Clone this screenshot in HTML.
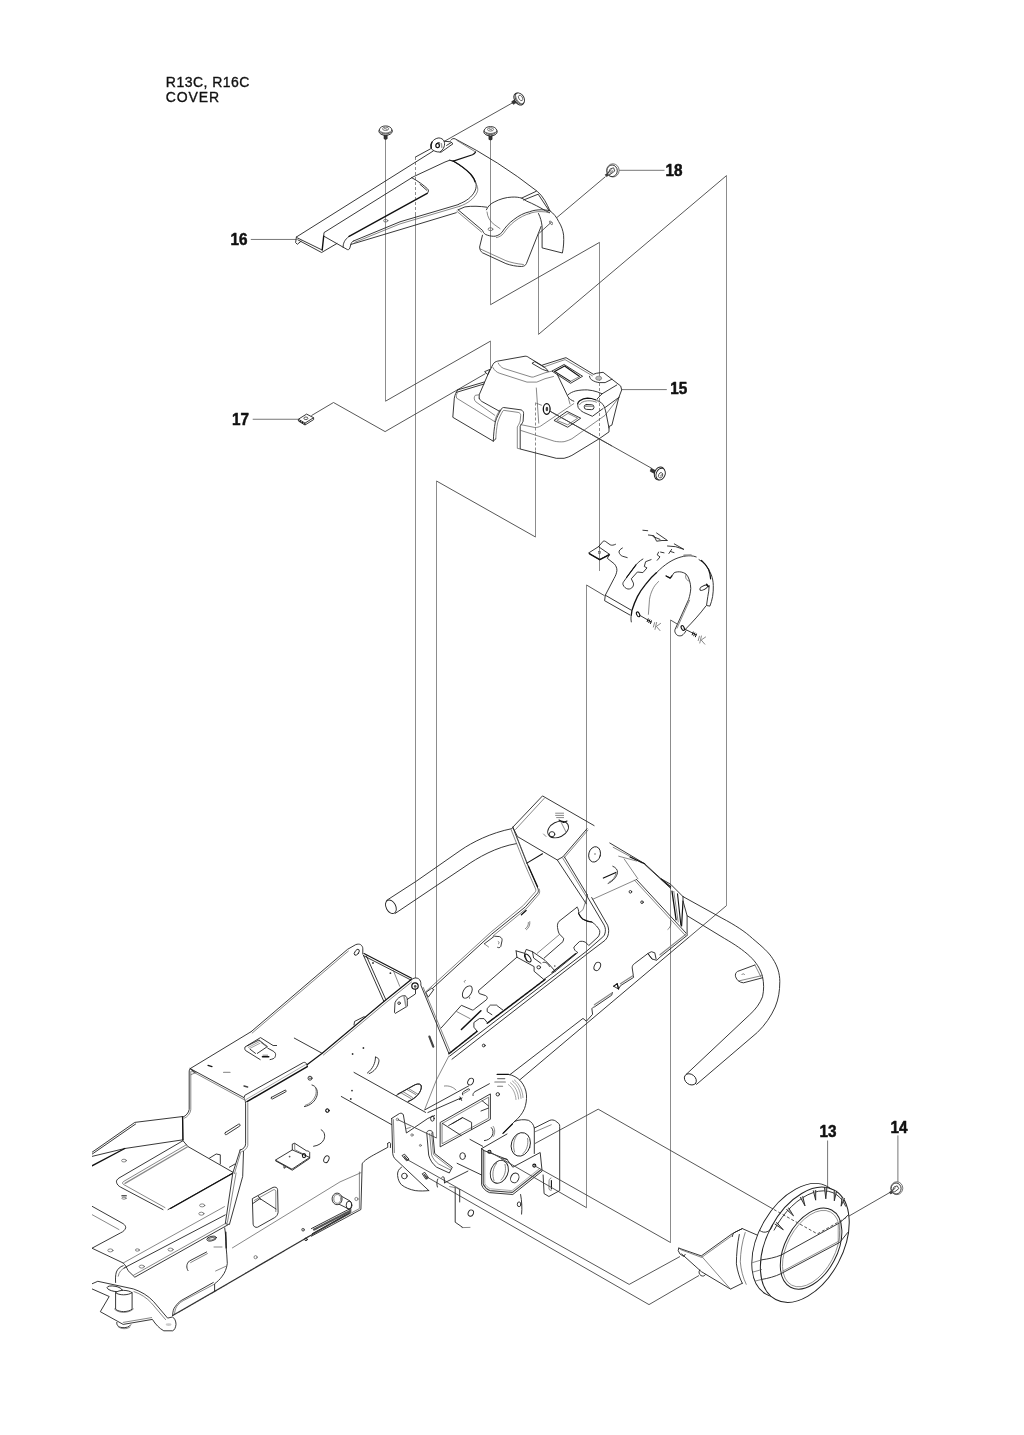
<!DOCTYPE html>
<html><head><meta charset="utf-8"><title>R13C, R16C COVER</title>
<style>
html,body{margin:0;padding:0;background:#fff;}
body{width:1024px;height:1435px;overflow:hidden;font-family:"Liberation Sans",sans-serif;}
svg{display:block;position:absolute;left:0;top:0;filter:grayscale(1);}
.t{font-family:"Liberation Sans",sans-serif;font-size:14px;fill:#111;stroke:#111;stroke-width:0.35px;}
.n{font-family:"Liberation Sans",sans-serif;font-size:16px;font-weight:bold;fill:#111;stroke:#111;stroke-width:0.5px;stroke-linejoin:round;}
.p{fill:none;stroke:#444;stroke-width:0.9;}
.pv{fill:none;stroke:#8c8c8c;stroke-width:1;}
.g{fill:none;stroke:#777;stroke-width:1;}
.o{fill:none;stroke:#222;stroke-width:0.9;stroke-linejoin:round;stroke-linecap:round;}
.l{fill:none;stroke:#555;stroke-width:0.7;stroke-linejoin:round;stroke-linecap:round;}
.k{fill:none;stroke:#111;stroke-width:1.4;stroke-linejoin:round;stroke-linecap:round;}
.w{fill:#fff;stroke:#222;stroke-width:0.9;stroke-linejoin:round;}
.d{stroke-dasharray:3 2;}
</style></head><body>
<svg width="1024" height="1435" viewBox="0 0 1024 1435">
<defs><clipPath id="clipL"><rect x="92" y="0" width="940" height="1435"/></clipPath></defs>
<rect width="1024" height="1435" fill="#fff"/>
<!-- TITLE -->
<text class="t" x="165.8" y="86.8" textLength="83.6" lengthAdjust="spacing">R13C, R16C</text>
<text class="t" x="165.8" y="101.9" textLength="53.2" lengthAdjust="spacing">COVER</text>
<!-- LABELS -->
<g id="labels">
<text class="n" x="230.6" y="245.3" textLength="17" lengthAdjust="spacingAndGlyphs">16</text>
<text class="n" x="232" y="425.1" textLength="17" lengthAdjust="spacingAndGlyphs">17</text>
<text class="n" x="665.6" y="175.7" textLength="17" lengthAdjust="spacingAndGlyphs">18</text>
<text class="n" x="670.2" y="394.3" textLength="17" lengthAdjust="spacingAndGlyphs">15</text>
<text class="n" x="819.4" y="1136.7" textLength="17" lengthAdjust="spacingAndGlyphs">13</text>
<text class="n" x="890.4" y="1132.8" textLength="17" lengthAdjust="spacingAndGlyphs">14</text>
<path class="g" d="M250.8,239.45H296.6 M252.7,419.25H298.2 M619,170.3H664.5 M621.7,389.6H666.8 M827.6,1140.5V1186.2 M897.9,1135.4V1182.4"/>
</g>
<!-- PROJECTION LINES -->
<g id="proj">
<path class="pv" d="M385.5,139L385.5,401.2 M490.5,341.1L490.5,368.5 M490.5,140L490.5,304.7 M599.5,242.4L599.5,373 M599.5,438.5L599.5,571 M538.5,234L538.5,334.4 M726.5,175.6L726.5,905.6 M415.5,212L415.5,978 M535.5,451L535.5,537 M436.5,481L436.5,1138 M586.5,585L586.5,1207.7 M670.5,620L670.5,1242.5"/>
<path class="pv d" d="M599.5,373L599.5,438.5 M415.5,157L415.5,212 M535.5,402.5L535.5,451"/>
<path class="p" d="M385.5,401.2L490.5,341.1 M490.5,304.7L599.5,242.4 M538.5,334.4L726.5,175.6 M726.5,905.6L688,938 M535.5,537L436.5,481 M311.4,415.6L333.5,402.5 M333.5,402.5L385.1,431.6 M385.1,431.6L485.5,373.6 M605.5,176.6L556.7,217.7 M551,222.5L539.1,233.3 M550,411.2L651.5,468.2 M512.4,102.9L444,141.5 M604.5,595.7L586.5,585 M586.5,1207.7L553,1188.4 M677.2,624L670.5,620 M670.5,1242.5L560,1180 M535,1143.5L598.2,1109.2 M598.2,1109.2L773.9,1209.5 M847.9,1216.7L889.8,1192.5 M406.2,1159L629.2,1284.4 M629.2,1284.4L680,1256.5 M425.5,1176.2L649,1304.6 M649,1304.6L699,1275.5"/>
</g>
<!-- PART16 -->
<g id="p16">

<!-- outer silhouette white fill to hide projection lines where needed is skipped: lines pass through -->
<path class="o" d="M296.4,237L433.4,150.9"/>
<path class="o" d="M415.5,157L430.4,148.9"/>
<path class="o" d="M296.4,237L295.6,242.6L297.3,244.3L301.1,241.2"/>
<path class="o" d="M297.2,237.8L321.9,249.9 M297.8,239.8L321.6,252.5L336.9,243.5"/>
<path class="k" d="M323.7,236.1L322.2,250"/>
<path class="o" d="M323.7,236.1L324,232.6L413.1,176.9L445,162L449.8,160.2L453.3,161.1"/>
<path class="o" d="M323.7,236.1L347.4,249.6C349,250 349.8,249 350.4,246C351.2,242.5 352,241.5 353.75,240.9 M351,244.4L400,229.7L456.25,212.7"/>
<path class="o" d="M343.2,247.5C342.8,243.5 344.5,239.8 349.1,236.3"/>
<path class="k" d="M349.1,236.3L427.2,193.3"/>
<path class="o" d="M427.2,193.3C429,191.8 428.8,190 427.5,188.8C424,185.5 418,181 411.6,177.6"/>
<path class="o" d="M353.75,240.9L400,221.8L458.6,204.5"/>
<path class="l" d="M354.8,242.3L400,223.9L459.8,206.25"/>
<ellipse class="l" cx="385.7" cy="220.7" rx="2.2" ry="1.3"/>
<!-- nut & tab -->
<path class="o" d="M443.8,141.2L450.6,141.8L453,143.75L440.9,152.3L438.6,151.4 M446.6,145.4L451.2,142.6"/>
<path class="w" d="M431.1,148.4C430.6,145.6 431,143.6 431.9,142.2C433.6,139.6 436,138.2 438.9,137.9C441.4,138.2 443,139.2 443.8,140.8C444.8,142.6 444.8,144.8 444,147C443,149.4 441.6,151 439.7,152C436.4,152.2 433,150.8 431.1,148.4Z"/>
<path class="k" d="M431.3,148.2C430.8,145.6 431.1,143.6 432,142.2" style="stroke-width:1.3"/>
<ellipse class="k" cx="437.6" cy="145.6" rx="1.8" ry="2.1" style="stroke-width:1.2"/>
<path class="k" d="M436.4,143.6C437.4,142.6 438.8,142.4 439.8,143" style="stroke-width:1"/>
<path class="l" d="M441.4,143.6L441.8,147.4" style="stroke:#999;stroke-width:1.4"/>
<!-- back edge to arch -->
<path class="o" d="M450.8,140.2C452,138.6 453.6,138.2 455.2,138.9Q498.9,161.2 537.2,191.3C543,196 547,204 549.9,210.8"/>
<path class="l" d="M456.9,140.4L475.6,152"/>

<path class="o" d="M449.5,160.2L453.2,161.2C460,165 466,169.5 470.5,174C476,180 477.5,185 475,191C472,197 466,201.5 459,204"/>
<path class="l" d="M475,182C478,186 478.5,190 476.8,193C474,198.5 468,203.5 459.8,206.25"/>
<path class="k" d="M453.3,161.1C460,165 466,169.5 470.5,174C473,177 474.5,179.5 475,182" style="stroke-width:1.2"/>
<path class="k" d="M453.3,161.1L472.5,154.7Q474.8,153.6 475.6,152" style="stroke-width:1.2"/>
<path class="o" d="M420,184.3L426.8,190.3"/>
<!-- tab plate -->
<path class="o" d="M458.1,209.8L464.9,206.9C472,205.8 480,206.2 486.8,207.2"/>
<path class="o" d="M458.1,209.8L482.5,230.4C483.5,233.2 485,234.6 487.5,235.2C490.5,236.2 493,236.4 495.2,236.2C498,235.6 500.5,234 502,232.3C505,227.5 509,223 513.75,219.6C519,215.5 524,213 529.4,211.8C533,210.4 537,209.8 541.1,209.8C544,209.8 547,210 549.9,210.8"/>
<path class="l" d="M456.8,211.2L481.5,232"/>
<path class="o" d="M486.4,209.8C488,206 491,203.5 494.2,202C500,199 506,197.3 511.8,197.1C516,196.9 519,197.3 521.6,198.1C523.5,199 525,200 526.4,201C533,203.8 540,207.4 545.2,210.6L549.6,212.6"/>
<path class="l" d="M487,212C487.5,217 490,221.5 494.2,224.5L500,228.6"/>
<path class="o" d="M521.6,198.1L536.2,191.3 M523.6,200L538.2,194.2L549,210.5"/>
<ellipse class="l" cx="490.5" cy="229.2" rx="2.4" ry="1.5"/>
<path class="l" d="M496.4,237.6C499.4,237 501.8,235.4 503.4,233.6C506.4,229 510.2,224.6 514.8,221.2C520,217.2 525,214.8 530,213.4" />
<!-- arch -->
<path class="o" d="M549.9,210.8C554,213.5 556.7,217.5 558.7,221.6C561.5,226 563,230.5 563.6,235.2C564,241 563.6,247 562.4,253L542.1,247.9V226.4C541.5,221.5 540.5,217.5 538.5,213.5"/>
<path class="l" d="M529.4,213.6C533,212 537,211.6 541.1,211.6C544,211.6 547,212 549.5,212.8"/>
<ellipse class="l" cx="551" cy="222.8" rx="1" ry="2.2" transform="rotate(-35 551 222.8)"/>
<!-- flap -->
<path class="o" d="M482.5,235.2L479.6,247C479.8,250 480.8,251.6 482.5,252.8L505.9,263.6C511,265.4 516,266.4 521.6,266.5C524.5,266.2 525.6,265.2 526.4,263.6L541.1,226.4"/>
<path class="l" d="M480.4,249L505.9,260.7C511,262.6 517,263.8 523.4,264.5"/>

</g>
<!-- PART15 -->
<g id="p15">

<!-- base left -->
<path class="o" d="M457.7,389.9L484.3,382 M456.3,392.4L484,384"/>
<path class="o" d="M457.7,389.9C456.2,392 455,394.5 454.3,398.2L452.8,417.3L493.3,441.2L495.8,438.75"/>
<path class="l" d="M457.2,393C456.2,395 456,396.5 456.7,398.2L494.8,421.7"/>
<path class="o" d="M493.3,441.2C493.6,434 494.2,428 495.3,422.1C496.8,417 499,413 501.2,409.5C501.8,408 502.6,407.6 503.6,407.5L521.2,409.9C522.8,410.6 523.6,411.8 523.6,413.4L523.1,421.2C522.2,423.5 521,425 520.2,426.1V449L545,455.4L556.25,458.3H564.1C567,457.6 569.5,456.6 571.9,455.4L599.2,438.75L609,431.9V426.5L611.9,425.1L618.75,397.7L621.7,389.9L620.7,386L611.9,379.2L603.1,372.3L596.3,373.3L593.4,374.3L566,357.7L564.1,358.2L542.6,365"/>
<path class="l" d="M495.8,438.75C496,432.5 496.8,427.5 497.6,422.8C499,418 501,414 503,410.8C503.4,410.4 503.8,410.3 504.1,410.4L518.2,412.4C520,413 520.7,413.8 520.7,415.3L520.2,421C519.4,423.5 518.2,425.5 517.3,427V448.3L520.2,449"/>
<path class="l" d="M494.8,421.7C495.4,417 498,413 500.2,409.5"/>
<!-- dome -->
<path class="o" d="M479.2,398.2V394.8L488,374.3L492.9,364.5C494,362.4 495.6,361.6 497.7,361.1L525.1,356.2C526.6,356.2 527.8,356.6 529,357.7L543.6,366.5"/>
<path class="o" d="M479.2,398.2C479.8,399.8 480.8,400.8 482.1,401.6L499.7,411.4"/>
<path class="l" d="M479.2,394.8L475.3,395.3C474.3,396.6 474.2,397.6 474.3,398.8C474.6,400.2 475,401 475.8,401.8L494.8,415.3"/>
<path class="o" d="M485,371.5L489.9,369.4L488,374.3Z" fill="#222"/>
<path class="l" d="M498.2,363.1C499.5,365.4 501,367.2 503.6,368.4L530,376.6C531.5,377.2 532.5,377.2 533.4,377L545,372.8L552.5,371"/>
<path class="l" d="M492.9,367.5C494.5,370.5 496.6,372.3 499.7,373.3L527,382.1H536.8L545,378.7L553.5,376.5"/>
<path class="l" d="M536.3,388L538.75,423.1"/>
<path class="l" d="M520.7,424.6L534.8,427.5C537,427.6 539,427 540.6,426.1L573.8,403.6"/>
<path class="l" d="M520.7,430.4L554.3,441.2C557.5,441.9 561,442 564.1,441.7C567,441 569.5,440 571.9,438.75L605.1,415.3L619.2,397.2"/>
<!-- slot on top -->
<path class="o" d="M532.3,363.1L534.8,361.6L545.8,368.2L548.4,371.4L542.6,369.4Z"/>
<!-- back rim inner line -->
<path class="l" d="M543.6,367L565,359.6L592.4,375.8"/>
<!-- window -->
<path class="o" d="M552.3,370.9L564.1,364.5L582.6,376.25L570.9,383.1Z"/>
<path class="k" d="M554.6,371.4L564.6,366L579.6,376.5 M554.6,371.4L570.4,381.4" style="stroke-width:1.1"/>
<path class="l" d="M570.4,381.4L579.6,376.5"/>
<!-- dome right edge -->
<path class="o" d="M557.2,374.3L568,396.8C569.5,399 571.5,400.5 573.8,401.2"/>
<path class="l" d="M568.5,398.5L570,404"/>
<!-- ear -->
<path class="o" d="M589.5,376.25C589.8,377.8 590.4,378.8 591.4,379.7C594,381.4 596.5,382.3 599.2,382.6H605.1L611.9,379.2"/>
<ellipse cx="598.7" cy="378.2" rx="3" ry="2" fill="#bbb" stroke="#777" stroke-width="0.7"/>
<!-- arc recess -->
<path class="o" d="M568,394.8C570,393 572.5,391.8 575.8,390.9C580,390 584,389.8 587.5,389.9C591,390.2 594.5,390.9 597.3,391.9L602.1,393.8L597.3,398.7"/>
<path class="o" d="M602.1,393.8L616.8,385 M605.1,407.5L619.2,397.2"/>
<!-- boss -->
<path class="k" d="M577.7,403.6C578,402.4 578.8,401.4 579.7,400.7C582,399.2 584.5,398.4 587.5,398.2C590.5,398.2 593,398.8 595.3,399.7" style="stroke-width:1.2"/>
<path class="o" d="M595.3,399.7C599.5,401 601,402.6 603.1,404.6C604.6,407 605.4,410 606.1,413.4L609,428"/>
<path class="o" d="M577.7,403.6C577.6,405 577.8,406.4 578.2,407.5C579.5,409.6 581.4,411.2 583.6,412.4L592.4,416.3L603.1,408.5"/>
<path class="l" d="M579.6,404.6C580.5,402.8 583,401.2 587.5,400.8C591,400.6 594,401.2 596.5,402.2"/>
<rect x="584.2" y="404.6" width="9.8" height="4.9" rx="2.4" ry="2.4" class="o" transform="rotate(3 589 407)"/>
<path class="l" d="M585.6,406.3H592.6" style="stroke:#999;stroke-width:1.4"/>
<path d="M597.3,398.7L599.5,403L596,400.5Z" fill="#999"/>
<!-- screw hole on face -->
<ellipse cx="546.7" cy="409" rx="3.4" ry="5.3" class="k" style="stroke-width:1.3"/>
<ellipse cx="546.9" cy="409" rx="1.3" ry="2.2" fill="#444"/>
<path class="l" d="M536.5,403.3L541.5,405.2"/>
<!-- small window -->
<path class="p" d="M550,411.2L612,446"/>
<path class="o" d="M554.3,420.2L567,411.4L580.7,418.2L568,427Z"/>
<path class="l" d="M557.2,420.2L568,413.4L577.7,418.2L568,424.6Z"/>

</g>
<!-- SHROUD -->
<g id="shroud">

<path class="o" d="M588.9,552.8L598.5,546.7L609.4,554.2L599.8,559.6Z"/>
<path class="k" d="M589.6,553.8L599.8,559.6L609.2,554.8"/>
<rect x="598.4" y="551.4" width="2" height="2" fill="none" stroke="#555" stroke-width="0.6"/>
<path class="o" d="M598.5,546.7L603.2,541.2C604,540.8 605,541 606,541.8L610.2,544.8C611.8,545.6 613.6,545.2 615.5,544.3"/>
<path class="o" d="M609.4,554.8L607.3,558.3L614.2,563.75C616,565.8 617,568 616.9,570.6C616.5,573.5 615.5,576 614,578.5L605.3,595.2L604.6,600.7L629.9,615"/>
<path class="o" d="M605.3,595.2L631.3,610.2"/>
<path class="o" d="M622.4,548C620,549.4 619,550.6 619,552.1C619.4,554 620.6,555.4 622.4,556.2L627.2,557.6"/>
<path class="o" d="M642.9,559C639.5,561 636.8,563.6 634.7,566.5L623.75,581.5C622.8,582.8 622.7,583.9 623.1,584.9C624.2,587.2 625.8,588.6 627.9,589C630,589.2 631.6,588.4 632.6,587C633.6,585.6 633.8,584.2 633.3,582.9L631.3,578.8L637.4,572L642.9,572.6L647,567.9L644.3,566.5L645.6,561.7L651.1,559.6"/>
<path class="k" d="M626.5,577.5L636,564.8" style="stroke-width:1.1"/>
<path class="o" d="M658.6,552.1L657.2,554.9L660,556.9L657.2,560.3 M660.6,552.1L664,552.8"/>
<path class="o" d="M642.9,530.25L647.7,530.7 M648.4,535L653.9,535.7L656.6,541.2L662,540.5L667.5,540.5L656.6,533 M653,536.5L660,539.4"/>
<path class="o" d="M667.5,546L675.7,546.7L683.9,549.4L674.3,543.9 M668.9,553.5L671.6,549.4 M670.5,551.5L674,552.6"/>
<!-- main arc -->
<path class="o" d="M631.3,621.9C630.8,619 630.9,617 631.3,615"/>
<path class="k" d="M631.3,615L632,610.2C633.5,605.5 635.2,601 637.4,596.6C639.8,592 642.5,588 645.6,584.3C649,580 652.6,576 656.6,572.6" style="stroke-width:1.3"/>
<path class="o" d="M656.6,572.6C660.5,568.6 664.5,565.2 668.9,562.4C673,559.8 677,558 681.2,556.9C684.5,556 687.6,555.7 690.75,555.8C692.8,555.9 694.6,556.3 696.2,556.9"/>
<path class="l" d="M684,555.2L691,555.1" style="stroke:#888;stroke-width:1.6"/>
<!-- right strip -->
<path class="o" d="M699,559.6C701.5,561 703.8,562.8 705.8,565.1C708,568 709.8,571.2 711.25,574.7C712.6,578.2 713.2,581.8 713.3,585.6C713.4,589.4 713.2,593 712.6,596.6C712,600 711,603.2 709.9,606.1L706.5,605.5L707.8,596.6C708.6,593 709,589.4 709.2,585.6"/>
<path class="k" d="M701.5,560.4C704,562.6 706.4,565.6 708.5,569.2C709.8,572.4 710.4,575.4 710.6,578.8" style="stroke-width:1.2"/>
<path class="o" d="M705.8,606.1C700,614 692.6,622 685.3,629.4"/>
<ellipse class="o" cx="703.7" cy="587.7" rx="4.2" ry="1.8" transform="rotate(-28 703.7 587.7)"/>
<path class="k" d="M706.6,584.2L708.6,586.6"/>
<!-- U -->
<path class="o" d="M666.1,576L670.2,578.1L674.3,572.6C676.5,571.8 678.8,571.6 681.2,572C683,572.4 684.6,573 686,574C687.6,575.8 688.7,577.8 689.4,580.2C690.3,583 690.7,585.6 690.75,588.4C690.6,592 689.8,595.6 688.7,599.3L682.5,613L675.7,628C674.8,629.6 674.6,631 675,632.1C675.6,633.8 676.5,634.9 677.75,635.5C679.2,636 680.6,636 681.9,635.5C683.6,634.4 684.9,632.8 686,630.75"/>
<path class="k" d="M666.1,576L670.2,578.1L672,575.8" style="stroke-width:1.2"/>
<path class="l" d="M689.6,600.2L683.6,613.6L677,628.2"/>
<path class="l" d="M686,574.4C685.2,576.4 685.6,578 686.6,579.4C687.4,580.4 688.4,581 689.4,581.2" />
<path class="l" d="M658.6,581.5C655.8,584 653.8,586.8 652.5,589.7C651,592.8 650,596 649.5,599.3L648.4,614.3"/>
<!-- bolts -->
<ellipse class="k" cx="638.1" cy="614.3" rx="1.4" ry="2.6" transform="rotate(-25 638.1 614.3)" style="stroke-width:1.1"/>
<path class="o" d="M639.6,615.2L651.1,621.9"/>
<path class="k" d="M648.2,618.8L647.2,621.6 M649.8,619.8L648.8,622.6 M651.4,620.8L650.4,623.6" style="stroke-width:1"/>
<path class="l" d="M656.6,622.4L655,629.4 M660.6,623.4L656.4,626.4L660,630.6 M654.6,622.6L653.4,627"/>
<ellipse class="k" cx="682.8" cy="628" rx="1.4" ry="2.6" transform="rotate(-25 682.8 628)" style="stroke-width:1.1"/>
<path class="o" d="M684.2,628.8L696.2,634.8"/>
<path class="k" d="M693.2,632L692.2,634.8 M694.8,633L693.8,635.8 M696.4,634L695.4,636.8" style="stroke-width:1"/>
<path class="l" d="M701.4,636L699.8,643 M705.6,637L701.2,640L704.8,644.2 M699.4,636.2L698.2,640.6"/>

</g>
<!-- FRAME -->
<g id="frame">

<!-- F1 left tube -->
<ellipse class="o" cx="390.9" cy="906.8" rx="4.8" ry="7.2" transform="rotate(-28 390.9 906.8)"/>
<path class="o" d="M386.6,900.4L415.7,881.6L461,850C472,842.5 490,833 512,828.6"/>
<path class="o" d="M395.2,913.4L465,866.5C478,857.5 496,847 516.4,843.6"/>
<!-- top plate -->
<path class="o" d="M512.8,827.2L542.5,795.9L594.1,825.6 M587,828.75L562.8,856.9L557.3,860L517.5,836.6L512.8,827.2"/>
<path class="l" d="M515.6,829.4L544.2,798.4 M588,830L564.4,857.6"/>
<ellipse class="o" cx="558.1" cy="829.5" rx="11" ry="7.6" transform="rotate(-27 558.1 829.5)"/>
<ellipse class="o" cx="552" cy="834.2" rx="2.8" ry="2.6"/>
<path class="l" d="M555.6,813.2H563.6 M555.6,815.4H563.6 M556.6,817.6H563.6" />
<path class="k" d="M559,820L563.5,822.5L567,821" style="stroke-width:1.1"/>
<path class="l" d="M561,822L566,832 M543.5,834L546,836.5"/>
<!-- left bar -->
<path class="o" d="M512.8,827.2L526.9,863.1L537.8,888.1C538.6,890 538.6,891.4 537.8,892.8L525.3,906.9L491.7,934.2L427.1,993.3"/>
<path class="l" d="M511.2,829.8L524.8,864.4L535.6,889C536,890.4 535.8,891.2 535.2,892L523.4,905.4L490.4,932.6L425.5,992"/>
<path class="l" d="M514.8,832L528.4,866 M539.2,889C540,891 539.8,893 538.8,894.4L527,908L493,936"/>
<path class="k" d="M526.9,863.1L542.5,853.75" style="stroke-width:1.1"/>
<path class="k" d="M528.6,866.4L537.6,886.8" style="stroke-width:1.2"/>
<path class="k" d="M521.4,914.7L526.1,910.4" style="stroke-width:1.3"/>
<path class="l" d="M528.4,922.5C528.6,925 527.4,927.4 525.3,928.75 M529.8,921.6C530.2,925 528.8,928 526.4,929.8"/>
<path class="w" d="M425.8,992.5L431.6,988.2L433.8,989.6L428.2,997.2Z"/>
<!-- small tab on bar -->
<path class="o" d="M484.3,943.8L494.4,936.2L499.5,936.6C501.6,937.6 502.4,939 502,940.8L500.8,946.4C499.8,947.8 498.8,948 497.6,947.4"/>
<path class="l" d="M484.3,943.8L488.6,947" />
<path class="l" d="M498.2,941.4C499.4,941.8 499.6,943.4 498.4,944" />
<!-- right bar -->
<path class="o" d="M557.3,860L586.25,903.75 M564.4,856.9L587,894.4"/>
<path class="l" d="M562.8,858.2L586.6,897"/>
<path class="o" d="M587,894.4L587.8,897.5L604.2,925.2C605.6,928 605.8,931 604.8,934C604.2,935.6 603.4,936.6 602.5,937.2L586.5,951.25L449.7,1056.1"/>
<path class="o" d="M591.7,897.5L607.6,925.2C609,929 609,932.5 607.8,936C606.8,938.4 605.6,940 604,941.1L586.5,954.4L452,1059.2"/>
<path class="l" d="M586.25,903.75L587,894.4"/>


<!-- F2 tray interior -->
<path class="o" d="M577,907.2L559.1,921.25C557.6,923 557.2,925 557.5,927.5C557.8,930 558.4,932 559.1,933.75L563.75,938.4L563,941.6L544.2,958"/>
<path class="o" d="M577,907.2C578.4,908.6 578.8,910.6 578.6,913.4C579.6,915.6 581,917.4 582.5,918.9C585.5,920.6 588.5,921.6 591.9,922C595.5,924.4 598,927.4 599.7,930.6C600,933 599.4,935 598.1,936.9L588.75,945.5L585.6,942.3C583.4,941.2 581.4,941 579.4,941.6L573.9,947C573.8,949.4 575.4,951.4 577.8,952.5L555.2,971.25L543.4,979.8"/>
<path class="k" d="M545,979.5L487.2,1023.3M477,1031.4L448.9,1053.75" style="stroke-width:1.5;stroke-dasharray:2.2 0.5"/>
<path class="l" d="M559.6,934.4L537.2,953.3 M578.6,913.4L583,909.6L587,897"/>
<path class="k" d="M578.6,913.4C579.6,915.6 581,917.4 582.5,918.9C585.5,920.6 588.5,921.6 591.9,922" style="stroke-width:1.1"/>
<path class="k" d="M552,972.4L575.5,953.6" style="stroke-width:1.1"/>
<!-- bracket -->
<path class="o" d="M516.1,950.9L524.7,953.3L526.25,949.4L532.5,951.7L545,960.3L549.7,965L555.2,971.25"/>
<path class="o" d="M516.1,950.9L516.9,957.2L534.1,966.6V971.25L543.4,979.1"/>
<path class="o" d="M524.7,953.3L526.6,961 M532.5,951.7L533.6,958L541,963.4"/>
<ellipse class="k" cx="527.8" cy="958" rx="2.2" ry="4.6" transform="rotate(-35 527.8 958)" style="stroke-width:1"/>
<ellipse class="o" cx="538.75" cy="967.3" rx="1.8" ry="1.6"/>
<path class="o" d="M543,962.4C545.5,961.6 548,963.4 549.4,966.4"/>
<circle cx="554.8" cy="966" r="0.8" fill="#444"/>
<!-- large cutout lower-left -->
<path class="o" d="M516.9,957.2L478.6,990.5C478.4,991.8 478.8,992.8 479.4,993.6L485.6,995.6C487,996.4 487.4,997.4 487.2,998.4L486.4,999.8L475,1008.6C474,1009.6 473,1010.2 472.3,1010L461.4,1005.3L441.1,1028"/>
<path class="l" d="M456.7,1011.6L470,1018.6"/>
<path class="k" d="M461.4,1029.5L480.9,1010.8" style="stroke-width:1.5"/>
<path class="o" d="M477,1031.1L473.9,1027.2V1022.5L479.4,1018.6H484L487.2,1022.5"/>
<path class="o" d="M491.9,1014.7L487.2,1011.6V1008.4L490.3,1005.3H496.6L502.8,1010"/>
<path class="l" d="M490.3,1005.3H496.6" style="stroke:#999;stroke-width:1.5"/>
<ellipse class="o" cx="467.3" cy="992" rx="4" ry="6.8" transform="rotate(32 467.3 992)"/>
<path class="l" d="M465.4,980.4C464,980.6 463.8,982 464.8,982.6 M468.4,996.6C469.6,996.4 470.4,997.6 469.6,998.6"/>
<circle class="o" cx="483.75" cy="1045.5" r="1.4"/>
<path class="k" d="M429.4,1036.6L433.3,1046.7" style="stroke-width:2.2;stroke:#444;stroke-dasharray:1.4 0.7"/>
<path class="l" d="M448.9,1056L436.4,1080L424.5,1110"/>

<!-- hole, right of tray -->
<ellipse class="o" cx="597.3" cy="966.4" rx="3" ry="4.4" transform="rotate(25 597.3 966.4)"/>


<!-- F3 right plate -->
<ellipse class="o" cx="594.6" cy="854.4" rx="5.8" ry="7.8" transform="rotate(15 594.6 854.4)"/>
<circle cx="595" cy="854" r="0.8" fill="#666"/>
<path class="k" d="M603.4,878L615.9,872.5" style="stroke-width:1.3"/>
<path class="o" d="M612.8,866.25C616,867.6 617.6,869.8 617.5,872.5C617,876.6 613,881.4 608.1,883.4"/>
<path class="l" d="M616,873.4C615.4,877 612.4,880.6 609.4,882"/>
<path class="o" d="M609.8,843L644.7,863.75L661.1,878.8L670.7,884.3L683,896.6"/>
<path class="l" d="M613.2,847.3L642,863 M618.7,856.2L636.5,861 M624.2,859L637.9,878.8"/>
<path class="k" d="M630,857L644.7,863.75" style="stroke-width:1.1"/>
<path class="o" d="M644.7,864.4L670.7,888.4"/>
<path class="k" d="M661.1,878.8L670.7,887" style="stroke-width:1.1"/>
<path class="l" d="M592.7,899.3L636.5,879.5"/>
<path class="o" d="M636.5,879.5L687.1,934.2"/>
<path class="l" d="M634.5,880.2L685.2,935.2"/>
<path class="k" d="M672,891.1L676.1,919.8" style="stroke-width:1.3"/>
<path class="l" d="M673.8,891.4L678.2,922" />
<path class="k" d="M677.5,893.8L680.9,925.3" style="stroke-width:1.1"/>
<path class="k" d="M683,901L681.6,926" style="stroke-width:1.2"/>
<path class="o" d="M683,896.6V901L687.1,915.7V933.5"/>
<path class="l" d="M670.7,921.2C671.4,924.6 670.4,927.8 667.9,929.4"/>
<circle class="o" cx="630.4" cy="891.8" r="1.3"/>
<circle class="o" cx="642" cy="902.2" r="1.3"/>
<!-- bottom edge of plate (long diagonal) -->
<path class="o" d="M688,938L519.6,1080"/>
<path class="o" d="M687.6,935L660.2,956.9L656.8,960.3L652,959L647.9,953.5L651.4,951.7L654.8,952.8L656.1,959 M652,959L647.9,953.5L634.3,963.75C632.8,964.8 632.2,966 632.2,967.9L633.6,977.4L620.6,985.6L618.5,989L613.75,986.3 M617.2,983.6L618.5,989 M612.4,992.5L611.7,995.2L594.6,1006.8C592.8,1007.4 592,1008 591.9,1008.9L592.6,1014.3L586.4,1021.2L583,1018.4L510.1,1074.5"/>
<path class="l" d="M686.6,933.6L660,954.8 M633.2,975.6L620.4,983.8 M611.5,993.2L594.4,1004.8" style="stroke:#888;stroke-width:1.2"/>
<path class="k" d="M613.75,986.3L617.2,983.6L618.5,989" style="stroke-width:1.1"/>
<!-- right tube -->
<path class="o" d="M683,896.6L721.9,918.1C735,925 745,931.5 752.4,938.4C762,946.5 769,952.5 772.7,958.7C777.5,966 779.8,973.5 779.8,981.6C779.8,991 778.5,999 775.2,1007C771,1016.5 765,1025 757.4,1032.4L696.5,1084.4"/>
<path class="o" d="M687.1,915.7L724.4,938.4C735,944.5 743,950 749.8,956.2C756,962 760.5,969 762.5,976.5C764,983.5 764,990 762.5,996.8C760,1003.5 755.5,1009.5 749.8,1014.6L686.3,1074.3"/>
<ellipse class="o" cx="690.4" cy="1079.4" rx="6.6" ry="5" transform="rotate(38 690.4 1079.4)"/>
<!-- tab on tube -->
<path class="o" d="M754.9,965L737.6,971.4C735.6,972.6 735,974.6 735.6,976.8C736.6,980 739.6,982.6 743.5,982.8L762.5,977.8"/>
<path class="l" d="M754.9,965L761,977 M738.5,981L762,975.6"/>
<path class="l" d="M741.8,974.6C742.4,973.4 744,973.4 744.6,974.6"/>


<!-- F4 left plates -->
<!-- back plate -->
<path class="o" d="M251.1,1031.7L347.6,949.3L355.8,944.6C357.6,944 359.4,944 360.5,944.6C362,945.6 362.8,947 362.8,948.75V954"/>
<path class="l" d="M252.2,1033L348.4,951"/>
<ellipse class="o" cx="356.8" cy="952.3" rx="1.9" ry="3.4" transform="rotate(35 356.8 952.3)"/>
<path class="o" d="M190.2,1068.6L251.1,1031.7"/>
<path class="k" d="M364,953.6L411.6,978.2" style="stroke-width:1.1"/>
<path class="o" d="M363.4,955.6L410.9,980"/>
<path class="o" d="M363.4,955.2L383.9,1001.5 M366.3,955.8L385.7,999.4"/>
<path class="l" d="M393.3,970.4L399.7,986.25"/>
<circle cx="373" cy="963" r="0.9" fill="#333"/><circle cx="390.4" cy="973.2" r="0.9" fill="#333"/>
<!-- right plate corner -->
<path class="o" d="M410.9,979.8L414,978.2C416.4,977.6 418.4,978.2 419.7,979.8C420.8,981.4 421,983.4 420.8,985.1L448.7,1053"/>
<path class="l" d="M423.2,987.4L450.4,1052"/>
<circle class="k" cx="415" cy="986" r="3.2" style="stroke-width:1.2"/>
<circle cx="415.2" cy="986.4" r="1.3" fill="#555"/>
<!-- right plate top edge (thick) -->
<path class="k" d="M410.9,979.8L383.9,1001.5L322.2,1053.3L307,1064.7" style="stroke-width:1.2"/>
<path class="l" d="M411.6,982L385,1003.4L323.4,1055"/>
<!-- ear -->
<path class="o" d="M394.5,1012L395,1002.7C396.2,1000 398,998 400.3,996.8C402,995.8 403.6,995.4 405,995.6C406.6,996.6 407.4,998.2 407.3,1000.3V1006.2L395.6,1013.2Z"/>
<path class="l" d="M404,996L406,1006.6" style="stroke:#999;stroke-width:1.6"/>
<circle class="o" cx="399.1" cy="1003.2" r="1.3"/>
<path class="o" d="M407.3,999.4L415.5,993.9V989.4"/>
<!-- small tab on edge -->
<path class="o" d="M354,1024.9L354.6,1021.4L364,1016.7L365.4,1017.4"/>
<!-- top face & front -->
<path class="o" d="M190.2,1068.6L244.1,1097.7L244.8,1095.3L303.4,1062.5C305.4,1062 306.8,1063 307.3,1066"/>
<path class="l" d="M191.4,1071L243.6,1099.4"/>
<path class="k" d="M247,1101.6L307.3,1066.6" style="stroke-width:1.5"/>
<path class="l" d="M246.2,1099.4L305.6,1064.6" style="stroke:#888"/>
<path class="l" d="M190.4,1069L196.4,1072.4L191,1074.6"/>
<path class="o" d="M294.3,1038.1L322.2,1053.3"/>
<!-- latch -->
<path class="o" d="M276.6,1045.5H273.1L260.5,1037.6L245,1047C244.6,1048.6 244.8,1049.6 245.5,1050.5L260.2,1059.6"/>
<path class="o" d="M270.1,1059.6C272.6,1059.2 274.2,1058.4 274.8,1057.5C275.6,1056 275.8,1054.6 275.4,1053.4C274.8,1052.2 274,1051.6 273.1,1051.1L267.8,1048.2"/>
<path class="o" d="M247.3,1045.8L259,1040L267.2,1046.7L257.3,1053.4 M250.2,1049.3L255.5,1053.4"/>
<path class="l" d="M248.4,1047.4L259.4,1041.6 M249.6,1048.6L260,1043.2" style="stroke:#777"/>
<path class="k" d="M261.6,1042.4L267.2,1046.7" style="stroke-width:1.3;stroke:#666"/>
<path class="k" d="M262.5,1056.7H268.7" style="stroke-width:1.6"/>
<path class="l" d="M263,1055.2H267.6"/>
<!-- marks on top face -->
<path class="k" d="M208,1065.4L212,1066.6" style="stroke-width:1.2"/><path class="l" d="M223.6,1072.4H230" style="stroke-width:1.2;stroke:#999"/><path class="k" d="M244,1086L247.6,1087" style="stroke-width:1.4;stroke:#444"/>
<!-- left side -->
<path class="o" d="M190.2,1068.6C189.4,1069.6 189.2,1070.4 189.2,1072V1109.5C188.6,1113 186,1115.8 182.8,1117.1V1140"/>
<path class="l" d="M190.8,1071.6V1109.8C190.2,1113.6 187.8,1116.6 184.4,1118.2"/>
<path class="o" d="M190.2,1068.6L194.6,1072.2"/>
<!-- front vertical -->
<path class="o" d="M244.4,1098.6C245.4,1100.6 245.6,1102.4 245.6,1105V1143.8C245.6,1147 243.4,1149.2 240,1150.1"/>
<path class="l" d="M247.8,1103V1145.4C247,1148.6 244.8,1150.6 241.8,1151.6"/>
<!-- slots/arcs on right plate -->
<path class="o" d="M271.4,1097.4L285,1090.2C286.2,1090 286.6,1091 285.8,1091.8L272.4,1099C271.2,1099.2 270.8,1098.2 271.4,1097.4Z"/>
<circle class="o" cx="310" cy="1078.2" r="2" /><circle cx="310" cy="1078.2" r="0.8" fill="#444"/>
<path class="o" d="M312,1085C316,1086 318,1090 317.1,1095.2C315.6,1101 310.6,1105.6 304.4,1106.6"/>
<path class="l" d="M315.4,1087.6C316.6,1090 316.4,1093 315.4,1095.8C313.6,1100.4 309.8,1104 305.2,1105.4"/>
<circle class="o" cx="327.4" cy="1110.6" r="1.8"/>
<path class="o" d="M321.2,1129.8C324.6,1131.6 325.4,1135.4 324,1139.4C322.4,1143 318.6,1145.6 313.6,1146.3"/>
<path class="o" d="M375.5,1057.1C378.4,1057.6 379.4,1059.4 378.8,1062C377.6,1067.4 374.2,1071.6 369.2,1073.6"/>
<path class="o" d="M375.5,1057.1C375.4,1063 373,1068.6 367.4,1073"/>
<circle cx="352.6" cy="1054" r="0.9" fill="#333"/><circle cx="363.4" cy="1048" r="0.9" fill="#333"/><circle cx="352" cy="1090.6" r="0.9" fill="#333"/><circle cx="350.8" cy="1099" r="0.9" fill="#333"/>
<path class="o" d="M354,1072.4L425.6,1112.4 M341.3,1096.5L391.6,1124.6"/>
<!-- curved slot -->
<path class="o" d="M396.4,1095.4L414,1085.2C416.6,1083.8 419.4,1083.4 420.6,1084.8C421.6,1086.6 421.2,1089.6 419.6,1092.6C417.6,1096.2 413.6,1099.4 408.4,1101.6"/>
<path class="l" d="M401,1092.8L411,1098.6 M406.8,1089.4L415.8,1094.6"/>


<!-- F5 left lower -->
<g clip-path="url(#clipL)">
<path class="k" d="M182.5,1116.6L183,1139.4" style="stroke-width:1.2"/>
<path class="o" d="M182.1,1116.6L134.8,1122.4L92,1152.3 M135.6,1124L92,1154.2"/>
<path class="o" d="M183,1139.8L124.8,1148.5L92,1156.4"/>
<path class="k" d="M124.8,1148.5L92,1165.8" style="stroke-width:1.3"/>
<!-- tray -->
<path class="o" d="M183,1140.7L119,1178C117,1179.4 116.2,1180.8 116.5,1182.2C117,1184.4 118.4,1186 120.7,1187.2L163,1209.6 M168,1209.6L232.8,1173"/>
<path class="l" d="M186.3,1144.8L123.4,1181.6C122.2,1182.6 122.4,1183.6 123.4,1184.4L165,1207.6"/>
<path class="l" d="M187.2,1147L125,1183.4" style="stroke:#888;stroke-width:1.3"/>
<path class="o" d="M183,1140.7L187.9,1146.5L232.8,1172.2"/>
<path class="k" d="M170.5,1208.4L232.4,1173.4" style="stroke-width:1.2"/>
<path class="o" d="M209.5,1158.1L216.2,1154L220.3,1154.8V1163.9 M229.4,1167.2L235.2,1163.9"/>
<!-- right support -->
<path class="o" d="M240.2,1149.8L232.8,1173L225.3,1223.7L229.4,1224.5L242.7,1176.4L243.5,1151.5"/>
<path class="l" d="M236.1,1173L227.4,1222.4 M240.8,1152L234.4,1173.6"/>
<!-- slot -->
<path class="o" d="M225.3,1132.6L238.6,1124.2C240,1123.8 240.6,1125 239.8,1126L226.4,1134.6C225,1135 224.4,1133.8 225.3,1132.6Z"/>
<!-- holes -->
<ellipse class="l" cx="124" cy="1160.6" rx="2.4" ry="1.4"/><path class="k" d="M121.8,1195.8H126.4" style="stroke-width:1"/><ellipse class="l" cx="124" cy="1198.2" rx="2.2" ry="1"/>
<ellipse class="l" cx="202.2" cy="1205.4" rx="2.6" ry="1.5"/><ellipse class="l" cx="201.4" cy="1213.7" rx="2.6" ry="1.5"/>
<!-- lower rail -->
<path class="o" d="M92,1206.25L123.2,1223.7C125,1225 125.8,1226.4 125.7,1227.8C125,1230 123.4,1231.6 120.7,1232.8L92,1248.2"/>
<path class="l" d="M92,1214.6L119,1229.6"/>
<path class="o" d="M92,1248.2L123.2,1263C125.6,1265.4 127,1268 128,1270.6L134.8,1277.2L227.8,1224.9"/>
<path class="l" d="M123.2,1263L224.5,1206.6"/>
<path class="o" d="M124,1268L225.3,1214.9"/>
<path class="l" d="M133.6,1275.2L226.4,1223"/>
<path class="o" d="M123.2,1265.7C120,1266.6 117.6,1269 116.4,1272C115.4,1275 115.4,1279 115.6,1282.5"/>
<path class="l" d="M125.4,1267.6C121.4,1269 119,1272 118.2,1276.2"/>
<ellipse class="l" cx="110.4" cy="1250.4" rx="2.6" ry="1.5"/><ellipse class="l" cx="137.4" cy="1250" rx="2" ry="1.2"/><ellipse class="l" cx="170.6" cy="1249.6" rx="2.6" ry="1.5"/><ellipse class="l" cx="141.8" cy="1266.6" rx="2.6" ry="1.5"/>
<ellipse class="o" cx="211.6" cy="1238.6" rx="4.8" ry="2.2" transform="rotate(-12 211.6 1238.6)"/><ellipse class="l" cx="211.6" cy="1238.8" rx="3" ry="1.2" transform="rotate(-12 211.6 1238.8)" style="stroke:#777;stroke-width:1.2"/>
<!-- bottom bracket -->
<path class="o" d="M92,1283.8L97.8,1281.3L133.3,1288.9C141,1291.5 148,1295.5 153.6,1301.6L167.6,1318.1L172.4,1317C174.6,1318 176,1321 176,1324.4C175.6,1328 174.4,1330 172.7,1330.8H163.8C159.5,1328.5 155.6,1324.5 152.4,1319.4L123.2,1324.4L100.3,1311.7L109.2,1296.5L92,1288.9"/>
<path class="l" d="M134,1291.6C141,1294 147,1298 151.6,1303.2L165.6,1319.6"/>
<path class="l" d="M123.2,1322.4L151.6,1317.6" />
<ellipse class="o" cx="114.6" cy="1288.8" rx="7.6" ry="2.6" transform="rotate(10 114.6 1288.8)"/>
<ellipse cx="168.6" cy="1324.6" rx="3" ry="1.4" fill="#ccc"/>
<path d="M115.6,1292.7V1309.2C119,1312.4 128,1312.4 132.1,1309.2V1292.7C128,1289.6 119,1289.6 115.6,1292.7Z" fill="#fff" stroke="#222" stroke-width="0.9"/>
<path class="o" d="M115.6,1292.7C119,1295.6 128,1295.6 132.1,1292.7"/>
<path class="l" d="M114.4,1309C118,1313.6 129,1313.6 133.4,1309"/>
<path class="o" d="M116.8,1322.4C116.4,1325 118,1327 122,1327.6C126,1328 129.4,1327 130.8,1324.8"/>
<path class="l" d="M118,1326.6C121,1329.4 127,1329.4 130,1327"/>
<!-- bottom long thick line -->
<path class="k" d="M172.7,1315.5L214.6,1291.4L306,1238.1L350,1213" style="stroke-width:1.3;stroke:#333;stroke-dasharray:2.4 0.6"/>
<path class="o" d="M172.7,1315.5C172.6,1311.5 173.6,1308.5 175.2,1306.7C177,1304 179,1302 181.6,1300.3L213.3,1282.5"/>
<path class="l" d="M174.6,1313.6C174.8,1310 176,1307 178,1304.8C179.6,1303 181.4,1301.6 183.4,1300.6L213.6,1284.6"/>
<path class="o" d="M224.7,1227.9C225.6,1234 226,1240 226,1245.7C226.4,1252 227.3,1258 227.3,1263.5C226.6,1268.5 225,1272.6 222.2,1276.2C220,1279.4 217,1282 214.6,1283.8V1291.4"/>
<path class="k" d="M225.8,1232L226.2,1248" style="stroke-width:1.2"/>
<path class="o" d="M188,1270.6C186,1267.6 186.4,1263.6 189.4,1261L206.6,1252"/>
<path class="l" d="M190.6,1262.6L207.4,1253.6"/>
<path class="l" d="M215.6,1271L225.6,1266.4 M214,1247H222" />
<!-- right part: square hole, bracket -->
<path class="o" d="M252.7,1198.4L273,1187.4C275.6,1186.6 277.4,1187.6 277.6,1189.6L278.1,1212.4C277.6,1215 276.4,1216.6 274.6,1217.6L257.6,1227.2C255.4,1227.8 253.6,1226.8 253.2,1224.6Z"/>
<path class="l" d="M254.4,1200.4L273.4,1189.8C275,1189.4 275.8,1190.2 275.8,1191.6V1211.6" />
<path class="o" d="M252.7,1203.6L260,1198.6L276,1209 M258.4,1196.2L260.6,1199.4"/>
<path class="o" d="M275.7,1159.9L292.3,1149.9L309.7,1157.4L292.3,1169Z"/>
<path class="o" d="M292.3,1149.9V1144.1L294.7,1143.3L306.4,1150.75C308.4,1151 309.4,1151.6 309.7,1152.4V1158.4L292.3,1170.2L275.7,1160.9"/>
<path class="l" d="M294.7,1143.3V1149.6L306.4,1155.6"/>
<ellipse class="k" cx="304" cy="1155.6" rx="1.6" ry="2.1" style="stroke-width:1.1"/>
<path class="o" d="M284,1165.7V1168.2L285.4,1167.6"/>
<circle cx="289.6" cy="1156.6" r="0.9" fill="#555"/>
<ellipse class="o" cx="326.4" cy="1159.2" rx="2.4" ry="3.6" transform="rotate(25 326.4 1159.2)"/>
<circle class="o" cx="327.4" cy="1110.6" r="1.6"/>
<!-- long lines on side plate -->
<path class="l" d="M232.4,1247.9L340,1181.9L360.9,1172.7"/>
<circle class="l" cx="303" cy="1229.6" r="1.3"/><circle class="l" cx="255.6" cy="1257.2" r="1.6"/><circle class="o" cx="306" cy="1239.4" r="1.3"/>
</g>


<!-- F6 center mechanism -->
<!-- left plate right edge + notch -->
<path class="o" d="M387.6,1143.6L387.8,1147.3L376.2,1153.6C369,1157.5 364,1160.5 362.2,1163.8L360.9,1209.5L311.4,1236.2"/>
<path class="l" d="M359.4,1172V1208.6L312,1234"/>
<path class="o" d="M387.6,1143.6C388.2,1142 390.2,1142 390.6,1143.6L390.4,1147.6"/>
<!-- pin -->
<path d="M338.6,1194.6L350,1201C352.2,1202.8 352.2,1207.4 349.2,1209.2L337.4,1203.4Z" fill="#fff" stroke="#222" stroke-width="0.9"/>
<ellipse class="w" cx="337.1" cy="1198.9" rx="5" ry="5.8"/>
<ellipse class="l" cx="337.4" cy="1198.9" rx="3.6" ry="4.4"/>
<ellipse class="o" cx="349" cy="1205.2" rx="2.8" ry="4"/>
<circle class="l" cx="356.4" cy="1199" r="1.6"/>
<!-- serrated bar -->
<path class="o" d="M311.4,1228.6L350.8,1208.3V1212L312.4,1233.6"/>
<path class="k" d="M314,1229.6L350,1211" style="stroke-width:2.2;stroke:#555;stroke-dasharray:1.4 0.6"/>
<circle class="l" cx="303.2" cy="1229.8" r="1.3"/>
<!-- lines from top-left -->
<!-- bracket plate -->
<path class="o" d="M391.7,1118.4L399.5,1113.5C401.4,1112.8 402.8,1113.4 403.4,1115L406.4,1133L427.9,1118.4L434.6,1115.6"/>
<path class="o" d="M391.7,1118.4L392.7,1153.5C393,1155.6 393.6,1157 394.6,1158.4L428.8,1190.6"/>
<path class="l" d="M393.4,1119.6L394.4,1152.6"/>
<circle class="l" cx="397.4" cy="1119.4" r="1.2"/><circle class="l" cx="412" cy="1135" r="1.2"/><circle class="l" cx="420.4" cy="1145.4" r="1"/><path class="l" d="M406.6,1128.6L410.4,1127.4"/>
<!-- bars going up-right from bracket -->
<path class="o" d="M425.1,1109.7L468.9,1085.8 M427.9,1112.5L460.7,1098.1"/>
<path class="k" d="M460,1097L461.6,1100.4 M459.4,1099.6L462,1098" style="stroke-width:0.9"/>
<path class="o" d="M462.7,1094.9C462,1093.4 462.4,1092.4 463.6,1091.6L468,1089C469.2,1088.6 469.8,1089 469.4,1090"/>
<path class="l" d="M463.6,1093.6L468.4,1090.8"/>
<path class="l" d="M444.4,1086C449,1085.4 453,1087 456,1090"/>
<ellipse class="o" cx="470.6" cy="1081.6" rx="2.6" ry="3.6" transform="rotate(30 470.6 1081.6)"/>
<path class="o" d="M473,1095.6C472.6,1094 473.6,1092.6 475,1091.6L489.4,1083.75"/>
<!-- slot upper left -->
<path class="o" d="M397.8,1094L415.6,1084.6C418.4,1083.6 420.6,1084 421.4,1085.6C422,1088 420.6,1091.4 418,1094.4C415.4,1097.4 412,1099.8 408,1101.4"/>
<path class="l" d="M402.6,1091.4L412.4,1097.4 M408.4,1088.4L417.6,1094"/>
<!-- hole near pivot -->
<ellipse class="o" cx="432.4" cy="1118.6" rx="1.8" ry="2.6"/>
<!-- rectangular box -->
<path class="o" d="M440.5,1122.3L490.4,1093.9V1119.3L440.5,1146.7Z"/>
<path class="l" d="M442.4,1123.4L488.6,1097.2V1118.2L442.4,1143.6Z"/>
<path class="o" d="M442.4,1123.4L461,1135.4 M448.6,1125.6L462.6,1117.6L471.6,1122.4V1129.4 M462.6,1117.6L452,1123.8 M482,1100.6L488.6,1106 M488.6,1108L481,1111"/>
<!-- cylinder top -->
<path class="k" d="M497.2,1074.4H508.4" style="stroke-width:1.4"/>
<path class="o" d="M508.4,1074.4C513,1075 517.4,1077.6 520.6,1081C524,1085 526,1089.6 526.5,1094.9C526.8,1099.6 526,1104.4 524.5,1108.6C522.4,1113.6 519,1117.8 514.8,1121.3"/>
<path class="l" d="M497.6,1078.6H504.8 M494.8,1082H505.4 M497.6,1086.2H502.6" style="stroke:#777;stroke-width:1.1"/>
<path class="l" d="M508.4,1084.6C513,1088 515.6,1093.6 516,1099.6 M510.4,1082.8C515.4,1086.4 518.2,1092.4 518.6,1099 M512.4,1081C517.8,1085 520.6,1091.4 521,1098.4 M514.4,1080C519.6,1084 522.6,1090.4 523,1097.6" style="stroke:#666;stroke-width:0.6"/>
<circle class="o" cx="497.8" cy="1094.3" r="1.7"/>

<!-- tube to upper right from cylinder -->
<!-- lower cylinder -->
<path class="o" d="M514.8,1121.3C519,1119.6 524,1119.2 528.4,1120.3C531.6,1121.8 533.6,1124.6 534.3,1128.1V1153.5"/>
<path class="o" d="M514.8,1121.3L502.6,1133.4"/>
<path class="k" d="M512.4,1124L503.4,1133" style="stroke-width:1.2"/>
<ellipse class="o" cx="520.8" cy="1144.4" rx="9.4" ry="12" transform="rotate(18 520.8 1144.4)"/>
<path class="l" d="M514.6,1152C512.6,1146 513.6,1139 517.6,1134.4 M527.6,1138.4C528.6,1144 527,1150 523,1153.6" style="stroke:#555"/>
<!-- arc between -->
<path class="o" d="M491.4,1127.6C493.4,1129.6 493.6,1133 492,1136C490.4,1138.6 487.4,1140.4 484.4,1140.6"/>
<path class="l" d="M493.2,1126.4C495.2,1129 495.2,1133 493.4,1136.4"/>
<!-- box right -->
<path class="o" d="M534.3,1128.1L549.9,1120.3C552,1119.6 554,1120 555.6,1121L558.8,1123.6C559.6,1124.4 559.7,1125.2 559.7,1126.4V1190.6L548.9,1196.5L544.1,1193.6L543.1,1175"/>
<path class="l" d="M534.7,1131.9L551.2,1124.75 M551,1178C549.4,1178.6 549,1180 549,1182V1188.6C549.4,1190.4 550.4,1190.6 551.6,1190"/>
<path class="o" d="M470,1139.4L482.7,1146.3"/>
<path class="k" d="M551.4,1180.6V1188.6" style="stroke-width:1.1"/>
<!-- bracket with holes -->
<path class="o" d="M481.6,1148.6V1184.8C483,1188.6 485.6,1191 489.4,1192.6L512.8,1194.5L542.1,1171.1L540.2,1152.5L512.8,1167.2L507,1159.4"/>
<path class="k" d="M483.2,1150V1184C484.6,1187.2 486.6,1189.2 489.8,1190.6L512.4,1192.4L540.6,1170" style="stroke-width:1.1;stroke:#444"/>
<path class="l" d="M484.8,1151V1183.4C486,1186 488,1187.8 490.6,1188.8L512,1190.6L539,1169" style="stroke:#888"/>
<path class="o" d="M481.6,1148.6L507,1134 M481.6,1148.6L484,1150.6L507,1159.4"/>
<path class="o" d="M507,1159.4C505,1158.6 503.4,1158.6 501.6,1159"/>
<ellipse class="o" cx="499.3" cy="1171.8" rx="8.6" ry="11.8" transform="rotate(22 499.3 1171.8)"/>
<path class="l" d="M494,1180.6C492,1175 492.6,1168 496.6,1163.4 M505,1164.4C506.4,1170 505,1176 501,1180" style="stroke:#555"/>
<ellipse class="o" cx="514.8" cy="1177.9" rx="4" ry="5" transform="rotate(25 514.8 1177.9)"/>
<circle class="k" cx="489.4" cy="1151.8" r="1.5" style="stroke-width:1.1"/>
<circle class="k" cx="534.3" cy="1165.6" r="1.5" style="stroke-width:1.1"/>
<!-- centre hole -->
<ellipse class="o" cx="462.6" cy="1156.1" rx="2.8" ry="3.4"/>
<!-- J bracket -->
<path class="o" d="M426.9,1132C428,1130 430.6,1129.8 432.7,1132L434.7,1153.5L452.3,1167.2L449.3,1173L436.6,1167.2C432.6,1164 430,1160 428.8,1155.5Z"/>
<path class="l" d="M429.6,1133.6L431.6,1155C433,1158.6 435.4,1161.6 438.6,1164L450.6,1170"/>
<path class="l" d="M431.6,1133L433.4,1154.4L451.4,1168.6" />
<!-- lobe -->
<path class="o" d="M401.5,1167.2C398.6,1169 397.2,1172 397.6,1175.6C398,1179.6 399.4,1182.6 401.5,1184.8C405,1187.6 410,1189.6 415.2,1190.6C420,1191.2 425,1191 428.8,1190.6"/>
<circle class="o" cx="404.4" cy="1176" r="2.8"/>
<!-- bolts on plate -->
<path class="o" d="M402.4,1155.4L404.6,1154.2L409,1159.2L406.8,1160.6Z M422.6,1173.6L424.8,1172.4L428.4,1177.6L426.2,1179Z"/>
<path class="k" d="M404.4,1156.4L407.6,1160.4 M424.4,1174.6L427,1178.6" style="stroke-width:1.3;stroke:#444"/>
<!-- short lines -->
<path class="o" d="M444.5,1182.8L467.9,1171.1 M457.1,1163.3L481.6,1175"/>
<path class="o" d="M441.6,1177.6C442.6,1176.2 444,1176.6 444.2,1178L444.5,1182.8 M437.8,1179C436.6,1181.6 436.6,1184.4 437.4,1187"/>
<!-- vertical bars below -->
<path class="o" d="M455.2,1187.7V1222.2L462.5,1227.3 M459.7,1189.6V1202"/>
<path class="l" d="M449.6,1186.6L456.4,1187.8L459.8,1189.8" />
<ellipse class="o" cx="470.8" cy="1213.1" rx="2.6" ry="3.2" transform="rotate(25 470.8 1213.1)"/>
<path class="o" d="M520.6,1194.5C521.8,1201 522.2,1208 521.6,1214.1"/>
<ellipse class="o" cx="519.1" cy="1204.3" rx="1.8" ry="2.4"/>
<path class="l" d="M462,1227.6L470,1227.4"/>
<!-- tube end on right -->

<path class="p" d="M489.4,1151.6L553,1188.4 M534.3,1165.6L560,1180 M436.5,1138L397.8,1119.6"/>
<!--FRAME-->
</g>
<!-- PART13 -->
<g id="p13">

<!-- shroud left -->
<path class="o" d="M678.8,1248.1L701.3,1255.9L732.5,1233.5L742.3,1228.6L757.9,1235.4"/>
<path class="o" d="M678.8,1248.1L678.2,1250.6L680,1254L683.6,1256.4L685.2,1254.4 M681.7,1254L701.3,1271.6L730.5,1289.1L742.3,1283.3"/>
<path class="l" d="M680.6,1249.6L701.6,1257.4L733,1235 M701.3,1255.9L730.5,1289.1"/>
<path class="o" d="M742.3,1228.6L735,1232.2C733,1233.4 732.4,1234.6 732.5,1236.4"/>
<path class="o" d="M699.6,1270C698.4,1272 699,1274.4 701,1275.6C703,1276.6 704.6,1276 705.4,1274.6"/>
<path class="o" d="M739.3,1234.5C737.4,1244 736.4,1254 736.4,1263.8C737.4,1271 739.4,1277.6 742.3,1283.3"/>
<path class="l" d="M745.2,1232.5C742,1242 740.6,1252 740.3,1261.8C741,1270 743,1277.6 746.2,1284.3"/>
<!-- main body back ellipse -->
<g transform="rotate(-60 797 1240.5)"><ellipse cx="797" cy="1240.5" rx="62" ry="38" fill="#fff" stroke="#222" stroke-width="0.9"/></g>
<!-- front ring -->
<g transform="rotate(-62 804.8 1244.8)"><ellipse cx="804.8" cy="1244.8" rx="62" ry="38" fill="#fff" stroke="#222" stroke-width="1"/></g>
<g transform="rotate(-62 811.1 1248.6)">
<ellipse cx="811.1" cy="1248.6" rx="43.7" ry="26" fill="none" stroke="#222" stroke-width="1"/>
<ellipse cx="811.1" cy="1248.6" rx="41.4" ry="23.8" fill="none" stroke="#777" stroke-width="0.7"/>
</g>
<!-- left side bands -->
<path class="l" d="M752.6,1262.6L761.8,1259.8 M753.2,1272L761.6,1269.6 M755.4,1281L761.8,1279.4"/>
<!-- bands across face -->
<path class="o" d="M761.8,1259.8C768,1259 775,1257.6 781.3,1255L839.9,1222.7L848.6,1214.6"/>
<path class="o" d="M761.8,1279.4C768,1278.4 775,1276.6 781.3,1273.5L839.9,1242.3L847.7,1232.5"/>
<path class="l" d="M783,1271L838,1241.6" style="stroke:#666"/>
<path class="l" d="M839.9,1222.7V1242.3 M838.2,1224V1241.6" style="stroke:#777"/>
<path class="o" d="M774.1,1230.1A60,36 -62 0 1 845.7,1206.3"/>
<!-- notch at top-left of ring -->
<path class="o" d="M759.8,1230.5C762,1232.4 765,1232.8 768,1231.4C770.6,1230 772,1227.6 772.6,1225"/>
<!-- fins -->
<path d="M775.0,1224.2L783.3,1229.8L776.6,1222.4M786.6,1209.6L793.5,1215.8L788.6,1208.0M800.4,1197.4L805.0,1205.9L802.8,1196.6M813.3,1190.8L815.7,1200.2L815.7,1190.4M824.5,1187.7L825.8,1198.8L826.9,1187.7M834.2,1191.0L834.3,1200.8L836.6,1191.2M842.0,1197.8L841.1,1206.2L844.4,1198.4" fill="#bbb" stroke="#222" stroke-width="0.9" stroke-linejoin="round" stroke-linecap="round"/>
<path class="p d" d="M773.9,1209.5L817.4,1233.9L847.9,1216.7"/>
</g>
<!-- SMALL -->
<g id="small">
<g transform="translate(385.6,130.2)">
<path d="M-1.6,3.6V8.6Q0,9.8 1.6,8.6V3.6Z" fill="#333" stroke="#222" stroke-width="0.6"/>
<ellipse cx="0" cy="0.9" rx="6.7" ry="4.2" fill="#fff" stroke="#222" stroke-width="1"/>
<ellipse cx="0" cy="-0.3" rx="6.2" ry="4" fill="#fff" stroke="#333" stroke-width="0.9"/>
<path d="M-5,1.6Q0,4.2 5,1.6" fill="none" stroke="#777" stroke-width="1.2"/>
<ellipse cx="0" cy="-1.4" rx="3" ry="1.7" fill="none" stroke="#555" stroke-width="0.8"/>
<path d="M-1.5,-2L1.6,-0.8" stroke="#444" stroke-width="0.7"/>
</g><g transform="translate(490.5,130.8)">
<path d="M-1.6,3.6V8.6Q0,9.8 1.6,8.6V3.6Z" fill="#333" stroke="#222" stroke-width="0.6"/>
<ellipse cx="0" cy="0.9" rx="6.7" ry="4.2" fill="#fff" stroke="#222" stroke-width="1"/>
<ellipse cx="0" cy="-0.3" rx="6.2" ry="4" fill="#fff" stroke="#333" stroke-width="0.9"/>
<path d="M-5,1.6Q0,4.2 5,1.6" fill="none" stroke="#777" stroke-width="1.2"/>
<ellipse cx="0" cy="-1.4" rx="3" ry="1.7" fill="none" stroke="#555" stroke-width="0.8"/>
<path d="M-1.5,-2L1.6,-0.8" stroke="#444" stroke-width="0.7"/>
</g><g transform="translate(519.6,98.6) rotate(58)">
<path d="M-1.6,3.6V8.2Q0,9.2 1.6,8.2V3.6Z" fill="#333" stroke="#222" stroke-width="0.6"/>
<ellipse cx="0" cy="0.9" rx="6.5" ry="4.3" fill="#fff" stroke="#222" stroke-width="1"/>
<ellipse cx="0" cy="-0.3" rx="6" ry="4.1" fill="#fff" stroke="#333" stroke-width="0.9"/>
<path d="M-5,1.8Q0,4.2 5,1.8" fill="none" stroke="#777" stroke-width="1.1"/>
<ellipse cx="0" cy="-1.2" rx="3" ry="1.8" fill="none" stroke="#555" stroke-width="0.8"/>
</g>
<!-- nut 18 -->
<g transform="translate(612.6,170.4)">
<path d="M-3.2,1.2L-7.4,4.4L-6,6.2L-1.6,3.2Z" fill="#444" stroke="#222" stroke-width="0.6"/>
<ellipse cx="0.3" cy="0" rx="6.2" ry="6.6" fill="#fff" stroke="#555" stroke-width="0.8"/>
<ellipse cx="-0.5" cy="0.4" rx="5.2" ry="5.8" fill="#fff" stroke="#222" stroke-width="0.9"/>
<path d="M-2.2,-1.6L1,-2.6L2.2,0.6L-2.6,4.2L-5.6,4.6Z" fill="#fff" stroke="#222" stroke-width="0.8"/>
<path d="M-1,-0.6L-4.4,2.6M0.6,0L-3,3.4" stroke="#222" stroke-width="0.8"/>
</g>
<!-- nut 14 -->
<g transform="translate(896.4,1188.2)">
<path d="M-3,1.6L-7,4L-5.8,5.8L-1.6,3.4Z" fill="#444" stroke="#222" stroke-width="0.6"/>
<ellipse cx="0.4" cy="0" rx="6" ry="6.4" fill="#fff" stroke="#555" stroke-width="0.8"/>
<ellipse cx="-0.3" cy="0.3" rx="5" ry="5.5" fill="#fff" stroke="#222" stroke-width="0.9"/>
<path d="M-2.4,-1.2L0.8,-2.4L2.4,0.4L-1.6,3.6L-4.6,3.8Z" fill="#fff" stroke="#222" stroke-width="0.8"/>
<path d="M-0.8,-0.4L-3.6,2.2" stroke="#222" stroke-width="0.8"/>
</g>
<!-- screw p15 -->
<g transform="translate(660.2,473.6)">
<path d="M-9,-5.4L-4,-2.6L-5.4,0.2L-10,-2.4Z" fill="#333" stroke="#222" stroke-width="0.6"/>
<ellipse cx="-0.8" cy="0" rx="4.9" ry="6.6" fill="#fff" stroke="#222" stroke-width="1" transform="rotate(22)"/>
<ellipse cx="0.6" cy="0.3" rx="4.4" ry="6.1" fill="#fff" stroke="#222" stroke-width="0.9" transform="rotate(22)"/>
<ellipse cx="1" cy="1.4" rx="2" ry="2.8" fill="none" stroke="#444" stroke-width="0.8" transform="rotate(22)"/>
<path d="M0,2.6L2.4,0.4" stroke="#333" stroke-width="0.8"/>
</g>
<!-- clip 17 -->
<g>
<path d="M298.4,419.2L306.6,414.1L313.6,417.7V419.6L305,425L298.4,421Z" fill="#fff" stroke="#222" stroke-width="0.9" stroke-linejoin="round"/>
<path d="M298.4,419.2L305,423.1L313.6,417.7M305,423.1V425" fill="none" stroke="#222" stroke-width="0.9"/>
<path d="M299.5,420.8L304.5,423.8" stroke="#111" stroke-width="1.4" stroke-dasharray="1.5 1"/>
<ellipse cx="305.9" cy="418.3" rx="2" ry="1.3" fill="none" stroke="#333" stroke-width="0.8"/>
</g>

</g>
</svg>
</body></html>
